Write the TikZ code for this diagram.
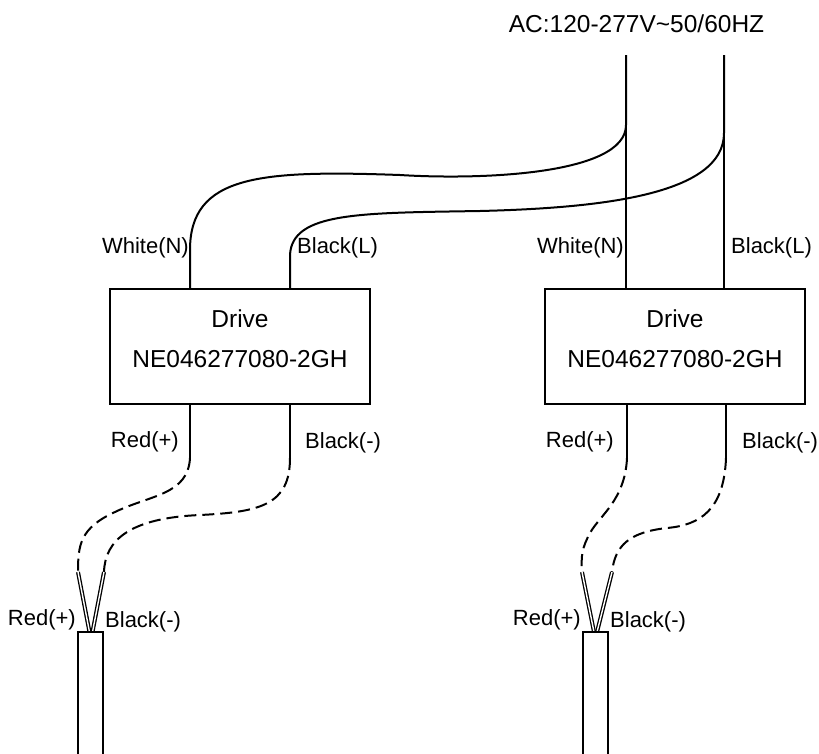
\documentclass[tikz,border=0pt]{standalone}
\usepackage{fontspec}
\setmainfont{Liberation Sans}
\begin{document}
\begin{tikzpicture}[x=1pt,y=-1pt,
  wire/.style={line width=2pt},
  dwire/.style={line width=2pt,dash pattern=on 12pt off 6pt},
  twin/.style={line width=1.3pt,double,double distance=1.4pt},
  drivebox/.style={draw,line width=1.8pt,minimum width=260pt,minimum height=115pt,inner sep=0pt},
  lbl/.style={font=\fontsize{22}{26}\selectfont,inner sep=0pt},
  big/.style={font=\fontsize{24.5}{28}\selectfont,inner sep=0pt}]
\useasboundingbox (0,0) rectangle (819,753);
% title
\node[big,anchor=base] (ac) at (636.5,32) {AC:120-277V\char"007E 50/60HZ};
% drive boxes
\node[drivebox] (d1) at (240,346.5) {};
\node[drivebox] (d2) at (675,346.5) {};
\node[big,anchor=base] (t1a) at (240,327) {Drive};
\node[big,anchor=base] (t1b) at (240,367) {NE046277080-2GH};
\node[big,anchor=base] (t2a) at (675,327) {Drive};
\node[big,anchor=base] (t2b) at (675,367) {NE046277080-2GH};
% coordinates
\coordinate (nTop) at (626,55);
\coordinate (lTop) at (724,55);
\coordinate (d1n) at (190,289);
\coordinate (d1l) at (290,289);
\coordinate (d2n) at (626,289);
\coordinate (d2l) at (724,289);
\coordinate (d1r) at (190,404);
\coordinate (d1b) at (290,404);
\coordinate (d2r) at (627,404);
\coordinate (d2b) at (726,404);
% AC wires
\draw[wire] (nTop) -- (d2n);
\draw[wire] (lTop) -- (d2l);
\draw[wire] (nTop) -- (626,125) .. controls (626,175) and (480,180) .. (400,175)
   .. controls (260,170) and (190,175) .. (190,250) -- (d1n);
\draw[wire] (lTop) -- (724,133) .. controls (724,195) and (600,208) .. (480,211)
   .. controls (360,213) and (292,212) .. (290,255) -- (d1l);
% labels top
\node[lbl,anchor=base east] (w1) at (189,253) {White(N)};
\node[lbl,anchor=base west] (b1) at (297,253) {Black(L)};
\node[lbl,anchor=base east] (w2) at (624,253) {White(N)};
\node[lbl,anchor=base west] (b2) at (731,253) {Black(L)};
% output wires left
\coordinate (r1s) at (78,572);
\coordinate (k1s) at (104,572);
\draw[wire] (d1r) -- (190,458);
\draw[wire] (d1b) -- (290,458);
\draw[dwire] (190,458) .. controls (188,495) and (150,495) .. (115,512)
   .. controls (80,528) and (78,545) .. (r1s);
\draw[dwire] (290,458) .. controls (290,505) and (260,512) .. (200,515)
   .. controls (130,518) and (105,540) .. (k1s);
\draw[twin] (r1s) -- (89.5,632);
\draw[twin] (k1s) -- (92.5,632);
\draw[line width=1.8pt] (78,760) -- (78,632) -- (103,632) -- (103,760);
% output wires right
\coordinate (r2s) at (582,572);
\coordinate (k2s) at (612,572);
\draw[wire] (d2r) -- (627,458);
\draw[wire] (d2b) -- (726,458);
\draw[dwire] (627,458) .. controls (625,500) and (600,515) .. (590,533)
   .. controls (582,548) and (581,555) .. (r2s);
\draw[dwire] (726,458) .. controls (724,510) and (700,525) .. (667,528)
   .. controls (630,532) and (615,545) .. (k2s);
\draw[twin] (r2s) -- (594,632);
\draw[twin] (k2s) -- (597,632);
\draw[line width=1.8pt] (583,760) -- (583,632) -- (608,632) -- (608,760);
% labels bottom
\node[lbl,anchor=base east] (r1a) at (179,447) {Red(+)};
\node[lbl,anchor=base west] (k1a) at (305,448) {Black(-)};
\node[lbl,anchor=base east] (r2a) at (614,447) {Red(+)};
\node[lbl,anchor=base west] (k2a) at (742,448) {Black(-)};
\node[lbl,anchor=base east] (r1b) at (76,625) {Red(+)};
\node[lbl,anchor=base west] (k1b) at (105,627) {Black(-)};
\node[lbl,anchor=base east] (r2b) at (581,625) {Red(+)};
\node[lbl,anchor=base west] (k2b) at (610,627) {Black(-)};
\end{tikzpicture}
\end{document}
